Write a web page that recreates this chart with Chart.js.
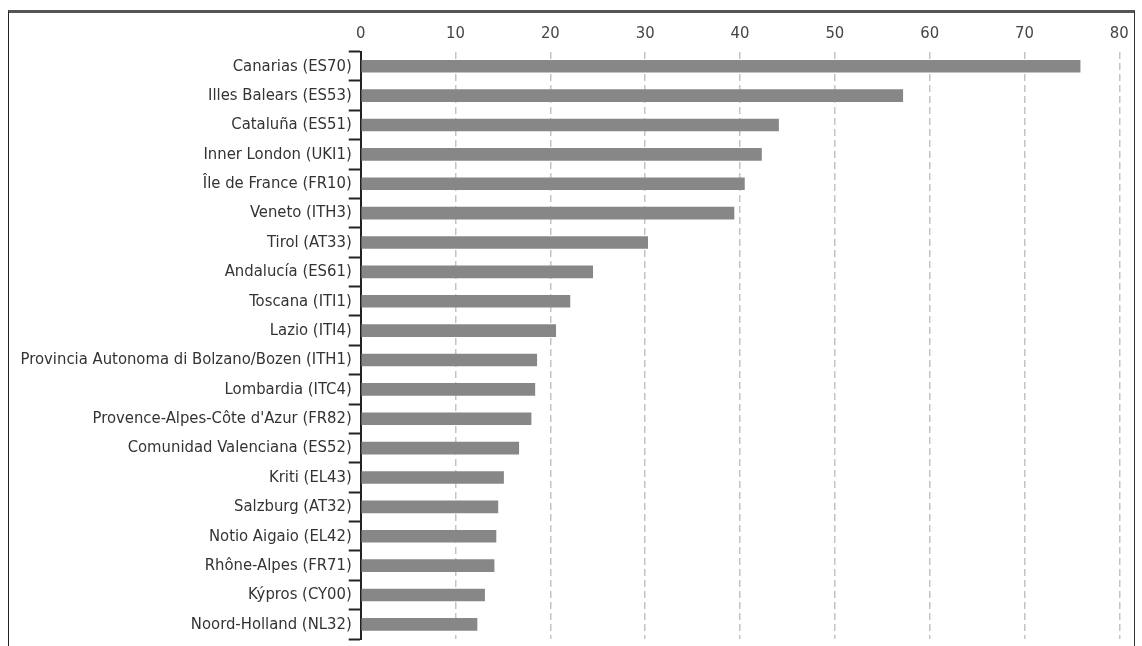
<!DOCTYPE html>
<html>
<head>
<meta charset="utf-8">
<script src="https://cdn.jsdelivr.net/npm/chart.js@4/dist/chart.umd.min.js"></script>
<style>
  body { margin: 0; background: #fff; overflow: hidden; }
  #frame {
    position: absolute; left: 8px; top: 10px; width: 1125px; height: 700px;
    border-top: 3px solid #555; border-left: 1px solid #222; border-right: 1px solid #333;
  }
  #chart { position: absolute; left: 0; top: 0; }
</style>
</head>
<body>
<div id="frame"></div>
<canvas id="chart" width="1142" height="646"></canvas>
<script>
const regions = [
  "Canarias (ES70)",
  "Illes Balears (ES53)",
  "Cataluña (ES51)",
  "Inner London (UKI1)",
  "Île de France (FR10)",
  "Veneto (ITH3)",
  "Tirol (AT33)",
  "Andalucía (ES61)",
  "Toscana (ITI1)",
  "Lazio (ITI4)",
  "Provincia Autonoma di Bolzano/Bozen (ITH1)",
  "Lombardia (ITC4)",
  "Provence-Alpes-Côte d'Azur (FR82)",
  "Comunidad Valenciana (ES52)",
  "Kriti (EL43)",
  "Salzburg (AT32)",
  "Notio Aigaio (EL42)",
  "Rhône-Alpes (FR71)",
  "Kýpros (CY00)",
  "Noord-Holland (NL32)",
];
const values = [75.9, 57.2, 44.1, 42.3, 40.5, 39.4, 30.3, 24.5, 22.1, 20.6,
  18.6, 18.4, 18.0, 16.7, 15.1, 14.5, 14.3, 14.1, 13.1, 12.3];
const xMin = 0;
const xMax = 80;
const xStep = 10;

const labelFont = {
  family: '"Liberation Sans Narrow", "DejaVu Sans Condensed", "Open Sans", sans-serif',
  size: 16.5,
};

const ctx = document.getElementById("chart").getContext("2d");
new Chart(ctx, {
  type: "bar",
  data: {
    labels: regions,
    datasets: [
      {
        data: values,
        backgroundColor: "#878787",
        borderWidth: 0,
        barPercentage: 0.43,
        categoryPercentage: 1,
      },
    ],
  },
  options: {
    indexAxis: "y",
    responsive: false,
    animation: false,
    layout: { padding: { left: 0, right: 22.7, top: 0, bottom: 5.6 } },
    plugins: { legend: { display: false }, tooltip: { enabled: false } },
    scales: {
      x: {
        position: "top",
        min: xMin,
        max: xMax,
        ticks: { stepSize: xStep, padding: 8, color: "#444", font: labelFont },
        grid: { drawTicks: false, color: "#c4c4c4", lineWidth: 1.5 },
        border: { display: false, dash: [7, 4] },
        afterFit: (scale) => { scale.height = 51.6; },
      },
      y: {
        ticks: { padding: -3, color: "#333", font: labelFont, autoSkip: false },
        grid: {
          offset: true,
          drawOnChartArea: false,
          tickLength: 12,
          tickWidth: 2,
          tickColor: "#222",
        },
        border: { color: "#222", width: 2 },
        afterFit: (scale) => { scale.width = 360.7; },
      },
    },
  },
});
</script>
</body>
</html>
